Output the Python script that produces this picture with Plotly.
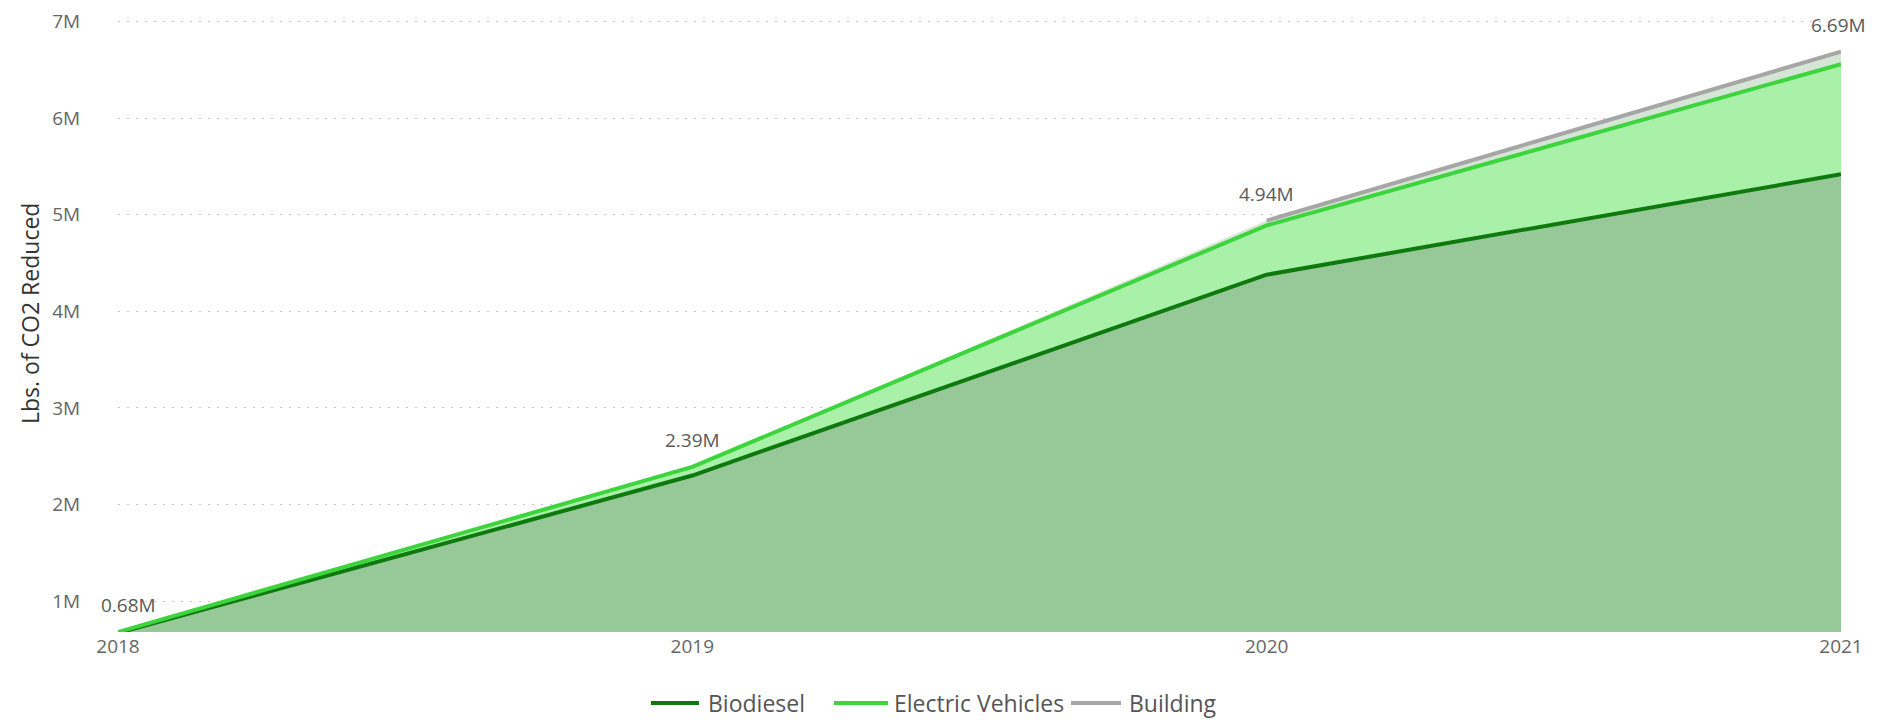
import numpy as np
import plotly.graph_objects as go

years = [2018, 2019, 2020, 2021]
year_labels = ["2018", "2019", "2020", "2021"]
series_names = ["Biodiesel", "Electric Vehicles", "Building"]
biodiesel = [0.67e6, 2.30e6, 4.38e6, 5.42e6]
electric_vehicles = [0.01e6, 0.09e6, 0.51e6, 1.14e6]
building = [0.0, 0.0, 0.05e6, 0.13e6]
y_tickvals = [1e6, 2e6, 3e6, 4e6, 5e6, 6e6, 7e6]
y_ticktext = ["1M", "2M", "3M", "4M", "5M", "6M", "7M"]

bio_top = np.array(biodiesel)
ev_top = bio_top + np.array(electric_vehicles)
bld_top = ev_top + np.array(building)

C_BIO = "#0E7A0E"
C_EV = "#3ED43E"
C_BLD = "#A6A6A6"
colors = [C_BIO, C_EV, C_BLD]
FONT = "Open Sans, Noto Sans, sans-serif"

W, H = 1880, 720
ML, MR, MT, MB = 110, 47, 4, 96
PW, PH = W - ML - MR, H - MT - MB


def px_x(px):
    return (px - ML) / PW


def px_y(py):
    return (H - MB - py) / PH


fig = go.Figure()
# fills
fig.add_trace(go.Scatter(x=years, y=bio_top, mode="lines", line=dict(width=0),
                         fill="tozeroy", fillcolor="#97C898", showlegend=False, hoverinfo="skip"))
fig.add_trace(go.Scatter(x=years, y=ev_top, mode="lines", line=dict(width=0),
                         fill="tonexty", fillcolor="#A9F0A9", showlegend=False, hoverinfo="skip"))
fig.add_trace(go.Scatter(x=years, y=bld_top, mode="lines", line=dict(width=0),
                         fill="tonexty", fillcolor="#D6E6D6", showlegend=False, hoverinfo="skip"))
# lines
fig.add_trace(go.Scatter(x=years, y=bio_top, mode="lines", name=series_names[0],
                         line=dict(color=C_BIO, width=4), showlegend=False))
fig.add_trace(go.Scatter(x=years, y=ev_top, mode="lines", name=series_names[1],
                         line=dict(color=C_EV, width=4), showlegend=False))
fig.add_trace(go.Scatter(x=years[2:], y=bld_top[2:], mode="lines", name=series_names[2],
                         line=dict(color=C_BLD, width=4), showlegend=False))

# data labels (totals)
anchors = ["left", "center", "center", "right"]
xshift = [-19, 0, 0, 27]
for i, yr in enumerate(years):
    fig.add_annotation(x=yr, y=bld_top[i], text=f"{bld_top[i]/1e6:.2f}M", showarrow=False,
                       xanchor=anchors[i], yanchor="middle", yshift=27, xshift=xshift[i],
                       font=dict(family=FONT, size=19, color="#5A5A5A"))

# y-axis title
fig.add_annotation(text="Lbs. of CO2 Reduced", xref="paper", yref="paper", x=px_x(22),
                   y=px_y(306), xanchor="center", yanchor="middle", textangle=-90,
                   showarrow=False, font=dict(family=FONT, size=23, color="#333333"))

# legend (drawn manually: line sample + label)
leg_y = 695
leg_items = [(643, 691, 698), (826, 880, 884), (1063, 1113, 1119)]
for name, col, (x0, x1, xt) in zip(series_names, colors, leg_items):
    fig.add_shape(type="line", xref="paper", yref="paper", x0=px_x(x0), x1=px_x(x1),
                  y0=px_y(leg_y), y1=px_y(leg_y), line=dict(color=col, width=4))
    fig.add_annotation(text=name, xref="paper", yref="paper", x=px_x(xt), y=px_y(leg_y),
                       xanchor="left", yanchor="middle", showarrow=False,
                       font=dict(family=FONT, size=23, color="#555555"))

fig.update_layout(
    width=W, height=H,
    margin=dict(l=ML, r=MR, t=MT, b=MB),
    paper_bgcolor="white", plot_bgcolor="white",
    font=dict(family=FONT, color="#666666"),
    showlegend=False,
)
fig.update_xaxes(range=[2018, 2021], tickvals=years, ticktext=year_labels, showgrid=False,
                 zeroline=False, showline=False, ticks="", ticklabelstandoff=1,
                 automargin=False, tickfont=dict(family=FONT, size=19, color="#666666"))
fig.update_yaxes(range=[0.68e6, 7.1e6], tickvals=y_tickvals, ticktext=y_ticktext,
                 showgrid=True, gridcolor="#C4C4C4", griddash="2px,7px", gridwidth=1,
                 zeroline=False, showline=False, ticks="outside", ticklen=33,
                 tickcolor="rgba(0,0,0,0)", automargin=False, ticklabeloverflow="allow",
                 tickfont=dict(family=FONT, size=19, color="#666666"))

fig.write_html("out.html")
